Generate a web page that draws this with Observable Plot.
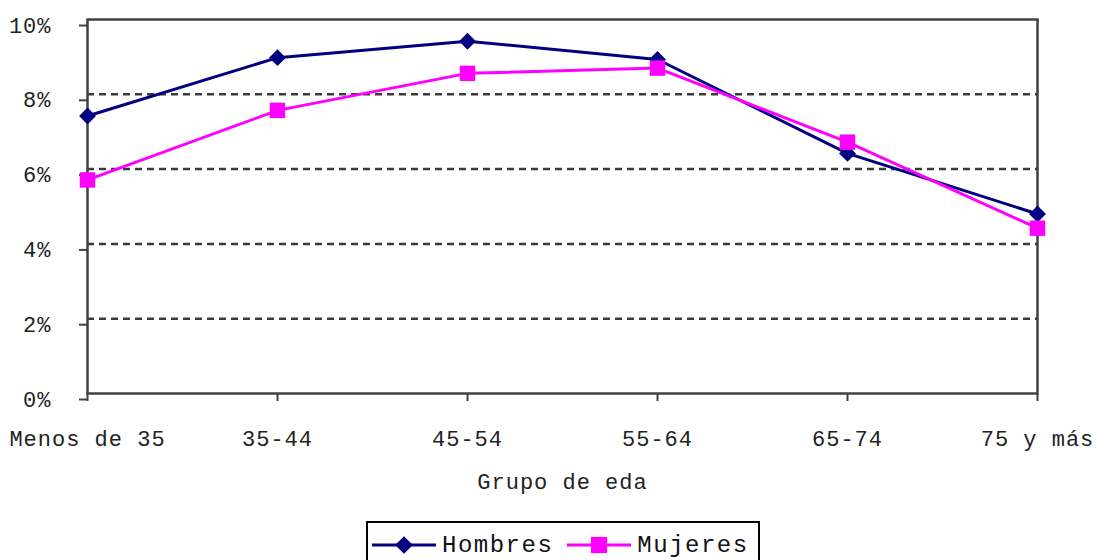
<!DOCTYPE html>
<html>
<head>
<meta charset="utf-8">
<script src="https://cdn.jsdelivr.net/npm/d3@7"></script>
<script src="https://cdn.jsdelivr.net/npm/@observablehq/plot@0.6"></script>
<style>
  html, body { margin: 0; padding: 0; background: #fff; }
  body { width: 1096px; height: 560px; overflow: hidden; position: relative;
         font-family: "Liberation Mono", "Courier New", monospace; }
  #legend { position: absolute; left: 366px; top: 521px; width: 390px; height: 44px;
            border: 2px solid #000; display: flex; align-items: center;
            font-size: 24px; letter-spacing: 1.5px; color: #111; }
  #legend .item { display: flex; align-items: center; }
  #legend svg { display: block; }
</style>
</head>
<body>
<div id="chart"></div>
<div id="legend"></div>
<script>
// Age groups and share (%) by sex
const grupos = ["Menos de 35", "35-44", "45-54", "55-64", "65-74", "75 y más"];
const hombres = [7.42, 8.98, 9.42, 8.93, 6.42, 4.80];
const mujeres = [5.71, 7.57, 8.56, 8.70, 6.72, 4.42];
const yTicks = [0, 2, 4, 6, 8, 10];
const gridTicks = [2, 4, 6, 8];
const nombres = ["Hombres", "Mujeres"];

const series = [
  {name: nombres[0], values: hombres, color: "#000080", symbol: "diamond2", r: 7.6, d3sym: d3.symbolDiamond2},
  {name: nombres[1], values: mujeres, color: "#ff00ff", symbol: "square", r: 8.7, d3sym: d3.symbolSquare}
];

const rows = series.flatMap(s => grupos.map((g, i) => ({serie: s.name, grupo: g, valor: s.values[i]})));

const seriesMarks = series.flatMap(s => {
  const data = rows.filter(d => d.serie === s.name);
  return [
    Plot.line(data, {x: "grupo", y: "valor", stroke: s.color, strokeWidth: 3}),
    Plot.dot(data, {x: "grupo", y: "valor", symbol: s.symbol, r: s.r, fill: s.color, stroke: "none"})
  ];
});

const chart = Plot.plot({
  width: 1096,
  height: 510,
  marginLeft: 87,
  marginRight: 59,
  marginTop: 19,
  marginBottom: 117,
  style: {fontFamily: "'Liberation Mono', 'Courier New', monospace", fontSize: "22px",
          color: "#222", background: "white", letterSpacing: "1px"},
  x: {type: "point", domain: grupos, padding: 0, label: null},
  y: {domain: [0, 10], label: null},
  marks: [
    Plot.gridY(gridTicks, {stroke: "#3a3a3a", strokeOpacity: 1, strokeWidth: 2.5, strokeDasharray: "7,5"}),
    Plot.frame({stroke: "#404040", strokeWidth: 2.5}),
    Plot.axisY(yTicks, {tickSize: 8, tickPadding: 28, tickFormat: d => d + "%",
                        stroke: "#404040", strokeWidth: 2, dy: 6, fill: "#222"}),
    Plot.axisX({tickSize: 8, tickPadding: 29, stroke: "#404040", strokeWidth: 2, fill: "#222"}),
    Plot.text(["Grupo de eda"], {frameAnchor: "bottom", dy: 88, lineAnchor: "middle",
                                 fill: "#222", fontSize: 22}),
    ...seriesMarks
  ]
});
document.getElementById("chart").appendChild(chart);

// Legend below the chart
const legend = d3.select("#legend");
series.forEach((s, i) => {
  const item = legend.append("div").attr("class", "item")
    .style("margin-left", i === 0 ? "4px" : "14px");
  const svg = item.append("svg").attr("width", 64).attr("height", 24);
  svg.append("line").attr("x1", 0).attr("x2", 64).attr("y1", 12).attr("y2", 12)
    .attr("stroke", s.color).attr("stroke-width", 3);
  svg.append("path").attr("transform", "translate(32,12)")
    .attr("d", d3.symbol(s.d3sym, Math.PI * s.r * s.r * 1.1)())
    .attr("fill", s.color);
  item.append("span").style("margin-left", "6px").text(s.name);
});
</script>
</body>
</html>
